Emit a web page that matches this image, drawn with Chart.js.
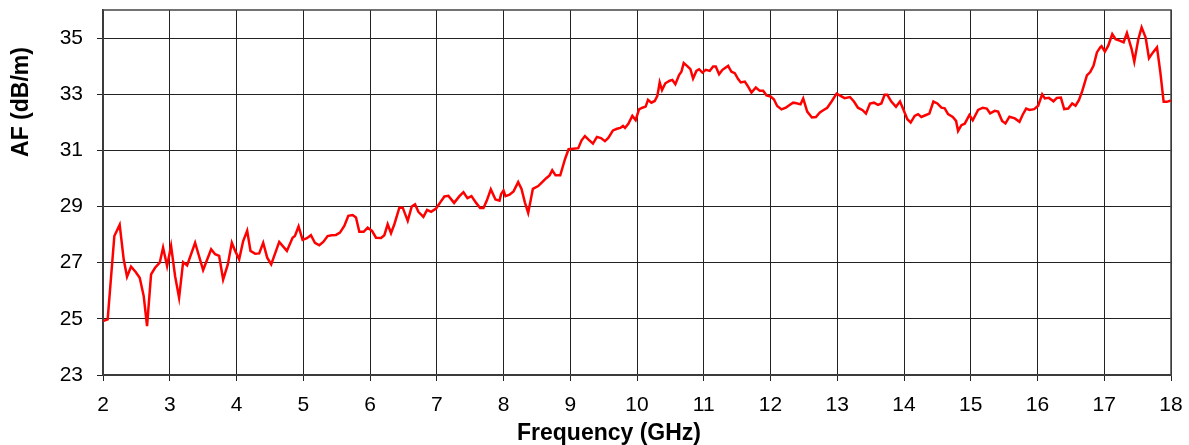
<!DOCTYPE html>
<html>
<head>
<meta charset="utf-8">
<script src="https://cdn.jsdelivr.net/npm/chart.js@4.4.0/dist/chart.umd.min.js"></script>
<style>
  html, body { margin: 0; padding: 0; background: #fff; }
  #wrap { width: 1189px; height: 445px; position: relative; }
</style>
</head>
<body>
<div id="wrap"><canvas id="afChart"></canvas></div>
<script>
// antenna factor vs frequency
const freqGHz = [
  2.0, 2.07, 2.17, 2.25, 2.31, 2.36, 2.42, 2.49, 2.55, 2.61, 2.66, 2.72, 2.78, 2.85, 2.90, 2.96,
  3.02, 3.08, 3.14, 3.20, 3.26, 3.38, 3.50, 3.62, 3.68, 3.74, 3.80, 3.87, 3.93, 3.98,
  4.04, 4.10, 4.16, 4.21, 4.28, 4.34, 4.40, 4.46, 4.52, 4.64, 4.755, 4.84, 4.875, 4.93, 4.99,
  5.055, 5.115, 5.175, 5.24, 5.30, 5.365, 5.425, 5.49, 5.55, 5.615, 5.675, 5.74, 5.79, 5.84, 5.905, 5.965,
  6.03, 6.09, 6.165, 6.215, 6.265, 6.315, 6.365, 6.44, 6.49, 6.565, 6.625, 6.675, 6.725, 6.80, 6.855, 6.915, 6.99,
  7.05, 7.115, 7.175, 7.26, 7.34, 7.40, 7.46, 7.52, 7.59, 7.65, 7.70, 7.75, 7.81, 7.88, 7.94, 7.965,
  8.0, 8.03, 8.09, 8.15, 8.22, 8.27, 8.32, 8.37, 8.44, 8.52, 8.58, 8.64, 8.69, 8.73, 8.78, 8.85, 8.92, 8.975,
  9.04, 9.12, 9.17, 9.22, 9.27, 9.34, 9.40, 9.46, 9.52, 9.57, 9.64, 9.70, 9.75, 9.79, 9.82, 9.87, 9.93, 9.98,
  10.03, 10.08, 10.13, 10.165, 10.215, 10.265, 10.305, 10.34, 10.375, 10.425, 10.49, 10.53, 10.575, 10.63,
  10.665, 10.70, 10.75, 10.80, 10.84, 10.89, 10.93, 10.98,
  11.03, 11.09, 11.14, 11.18, 11.23, 11.28, 11.365, 11.415, 11.465, 11.515, 11.555, 11.615, 11.665, 11.715,
  11.78, 11.84, 11.89, 11.94,
  12.0, 12.05, 12.10, 12.165, 12.23, 12.28, 12.34, 12.39, 12.45, 12.49, 12.55, 12.62, 12.68, 12.74, 12.79,
  12.85, 12.915, 12.99,
  13.05, 13.11, 13.19, 13.25, 13.31, 13.38, 13.43, 13.49, 13.55, 13.61, 13.66, 13.71, 13.75, 13.81, 13.88, 13.94,
  14.0, 14.05, 14.10, 14.16, 14.21, 14.26, 14.33, 14.38, 14.44, 14.50, 14.56, 14.61, 14.66, 14.73, 14.78,
  14.81, 14.86, 14.91, 14.98,
  15.03, 15.11, 15.18, 15.24, 15.29, 15.36, 15.41, 15.47, 15.52, 15.58, 15.66, 15.73, 15.78, 15.83, 15.88, 15.95,
  16.01, 16.07, 16.11, 16.17, 16.24, 16.29, 16.35, 16.40, 16.46, 16.52, 16.57, 16.62, 16.67, 16.74, 16.79,
  16.84, 16.89, 16.94, 16.96,
  17.01, 17.06, 17.12, 17.17, 17.23, 17.29, 17.34, 17.41, 17.45, 17.51, 17.56, 17.62, 17.67, 17.73, 17.79,
  17.84, 17.89, 17.94, 18.0
]

const afValues = [
  24.92, 24.98, 27.95, 28.35, 27.12, 26.5, 26.86, 26.67, 26.46, 25.81, 24.74, 26.58, 26.82, 27.0, 27.54, 26.88,
  27.6, 26.52, 25.75, 27.02, 26.9, 27.71, 26.74, 27.48, 27.3, 27.24, 26.4, 26.94, 27.71, 27.42,
  27.12, 27.77, 28.14, 27.42, 27.32, 27.33, 27.71, 27.18, 26.94, 27.74, 27.42, 27.89, 27.95, 28.29, 27.81,
  27.87, 27.98, 27.71, 27.62, 27.74, 27.95, 27.98, 27.99, 28.07, 28.31, 28.67, 28.7, 28.61, 28.1, 28.1, 28.25,
  28.13, 27.89, 27.88, 27.98, 28.37, 28.05, 28.37, 28.96, 28.96, 28.49, 29.0, 29.08, 28.81, 28.63, 28.88, 28.81, 28.93,
  29.14, 29.36, 29.38, 29.13, 29.37, 29.51, 29.30, 29.37, 29.13, 28.95, 28.95, 29.21, 29.61, 29.25, 29.21, 29.45,
  29.57, 29.37, 29.42, 29.54, 29.87, 29.63, 29.15, 28.77, 29.63, 29.73, 29.87, 30.01, 30.11, 30.29, 30.11, 30.11, 30.68, 31.04,
  31.06, 31.08, 31.36, 31.51, 31.39, 31.24, 31.48, 31.44, 31.33, 31.44, 31.71, 31.77, 31.80, 31.87, 31.80, 31.95, 32.23, 32.08,
  32.46, 32.52, 32.56, 32.8, 32.7, 32.76, 32.94, 33.42, 33.15, 33.39, 33.48, 33.51, 33.36, 33.68,
  33.8, 34.11, 34.01, 33.89, 33.56, 33.83, 33.89, 33.77,
  33.87, 33.83, 33.99, 33.99, 33.71, 33.87, 34.01, 33.8, 33.75, 33.54, 33.42, 33.45, 33.27, 33.06,
  33.24, 33.12, 33.12, 32.96,
  32.92, 32.82, 32.58, 32.46, 32.52, 32.61, 32.70, 32.68, 32.64, 32.85, 32.38, 32.17, 32.19, 32.35, 32.43,
  32.52, 32.74, 33.02,
  32.94, 32.86, 32.9, 32.74, 32.52, 32.43, 32.31, 32.67, 32.70, 32.62, 32.67, 32.98, 32.98, 32.74, 32.55, 32.74,
  32.4, 32.11, 31.99, 32.23, 32.29, 32.19, 32.26, 32.31, 32.74, 32.67, 32.52, 32.5, 32.29, 32.19, 32.05,
  31.69, 31.9, 31.95, 32.26,
  32.07, 32.44, 32.52, 32.49, 32.32, 32.41, 32.38, 32.05, 31.96, 32.2, 32.14, 32.02, 32.28, 32.49, 32.44, 32.47,
  32.59, 33.0, 32.85, 32.87, 32.75, 32.87, 32.88, 32.47, 32.49, 32.67, 32.59, 32.79, 33.11, 33.67, 33.79,
  34.02, 34.49, 34.67, 34.71,
  34.52, 34.73, 35.14, 34.96, 34.91, 34.85, 35.18, 34.61, 34.16, 34.96, 35.38, 35.02, 34.28, 34.49, 34.67,
  33.79, 32.73, 32.73, 32.78
]

const yTicks = [23, 25, 27, 29, 31, 33, 35]
const xTitle = 'Frequency (GHz)'
const yTitle = 'AF (dB/m)'

// frame round the plot area + the two axis titles
const frameAndTitles = {
  id: 'frameAndTitles',
  beforeDatasetsDraw(chart) {
    const { ctx, chartArea: a } = chart
    ctx.save()
    ctx.strokeStyle = '#444'
    ctx.lineWidth = 1.5
    ctx.strokeRect(a.left, a.top, a.right - a.left, a.bottom - a.top)
    ctx.restore()
  },
  afterDraw(chart) {
    const ctx = chart.ctx
    ctx.save()
    ctx.fillStyle = '#000'
    ctx.font = 'bold 23px "Liberation Sans", Arial, sans-serif'
    ctx.textAlign = 'center'
    ctx.textBaseline = 'middle'
    ctx.fillText(xTitle, 609, 434)
    ctx.translate(22, 102)
    ctx.rotate(-Math.PI / 2)
    ctx.fillText(yTitle, 0, 0)
    ctx.restore()
  }
}

const tickFont = { family: '"Liberation Sans", Arial, sans-serif', size: 21 }

new Chart(document.getElementById('afChart'), {
  type: 'line',
  plugins: [frameAndTitles],
  data: {
    datasets: [{
      data: freqGHz.map((f, i) => ({ x: f, y: afValues[i] })),
      borderColor: '#ff0000',
      borderWidth: 2.5,
      pointRadius: 0,
      tension: 0,
      fill: false
    }]
  },
  options: {
    responsive: true,
    maintainAspectRatio: false,
    animation: false,
    layout: { padding: { top: 10, right: 18, left: 0, bottom: 0 } },
    plugins: {
      legend: { display: false },
      tooltip: { enabled: false }
    },
    scales: {
      x: {
        type: 'linear',
        min: 2,
        max: 18,
        afterFit: (scale) => {
          scale.height = 70
          scale.paddingLeft = 0
          scale.paddingRight = 0
        },
        grid: { color: '#222', lineWidth: 1, tickLength: 6, tickColor: '#222' },
        border: { color: '#222', width: 1.5 },
        ticks: { stepSize: 1, color: '#000', font: tickFont, padding: 12, maxRotation: 0, autoSkip: false }
      },
      y: {
        min: 23,
        max: 36,
        afterBuildTicks: (scale) => { scale.ticks = yTicks.map(v => ({ value: v })) },
        afterFit: (scale) => {
          scale.width = 103
          scale.paddingTop = 0
          scale.paddingBottom = 0
        },
        grid: { color: '#222', lineWidth: 1, tickLength: 6, tickColor: '#222' },
        border: { color: '#222', width: 1.5 },
        ticks: { color: '#000', font: tickFont, padding: 14 }
      }
    }
  }
})
</script>
</body>
</html>
